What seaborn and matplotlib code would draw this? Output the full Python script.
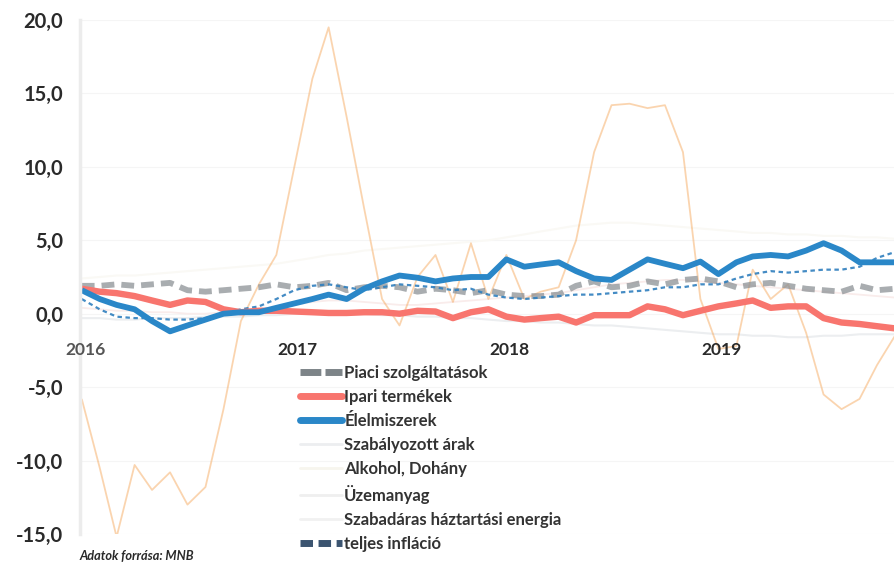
import matplotlib
matplotlib.use("Agg")
import matplotlib.pyplot as plt
import seaborn as sns
import pandas as pd
import numpy as np
from matplotlib.lines import Line2D

# ---------------- data (yoy %, monthly, Jan 2016 - Nov 2019) ----------------
months = pd.date_range("2016-01-01", periods=47, freq="MS")

piaci_szolg = [1.9, 1.9, 2.0, 1.9, 2.0, 2.1, 1.6, 1.5, 1.6, 1.7, 1.8, 2.0,
               1.8, 1.9, 2.1, 1.6, 1.8, 1.9, 1.8, 1.5, 1.7, 1.6, 1.4, 1.6,
               1.3, 1.2, 1.2, 1.3, 1.9, 2.2, 1.8, 1.9, 2.2, 2.0, 2.3, 2.4,
               2.2, 1.8, 2.0, 2.1, 1.9, 1.7, 1.6, 1.5, 1.9, 1.6, 1.7]

ipari = [1.7, 1.5, 1.4, 1.2, 0.9, 0.6, 0.9, 0.8, 0.3, 0.1, 0.2, 0.2,
         0.15, 0.1, 0.05, 0.05, 0.1, 0.1, 0.0, 0.2, 0.15, -0.3, 0.1, 0.3,
         -0.2, -0.4, -0.3, -0.2, -0.6, -0.1, -0.1, -0.1, 0.5, 0.3, -0.1, 0.2,
         0.5, 0.7, 0.9, 0.4, 0.5, 0.5, -0.3, -0.6, -0.7, -0.85, -1.0]

elelmiszer = [1.6, 1.0, 0.6, 0.3, -0.5, -1.2, -0.8, -0.4, 0.0, 0.1, 0.1, 0.4,
              0.7, 1.0, 1.3, 1.0, 1.7, 2.2, 2.6, 2.45, 2.2, 2.4, 2.5, 2.5,
              3.7, 3.2, 3.35, 3.5, 2.9, 2.4, 2.3, 3.0, 3.7, 3.4, 3.1, 3.55,
              2.7, 3.5, 3.9, 4.0, 3.9, 4.3, 4.8, 4.3, 3.5, 3.5, 3.5]

szabalyozott = [-0.3, -0.3, -0.4, -0.4, -0.3, -0.3, -0.3, -0.2, -0.2, -0.2, -0.1, -0.1,
                0.0, 0.0, 0.0, 0.0, 0.0, -0.1, -0.1, -0.2, -0.2, -0.3, -0.3, -0.4,
                -0.5, -0.5, -0.6, -0.6, -0.7, -0.8, -0.8, -0.9, -1.0, -1.1, -1.2, -1.3,
                -1.4, -1.4, -1.5, -1.5, -1.6, -1.6, -1.5, -1.5, -1.4, -1.4, -1.4]

alkohol = [2.4, 2.5, 2.6, 2.6, 2.7, 2.8, 2.9, 3.0, 3.1, 3.2, 3.3, 3.4,
           3.6, 3.8, 4.0, 4.1, 4.3, 4.4, 4.5, 4.6, 4.7, 4.8, 4.9, 5.0,
           5.2, 5.4, 5.6, 5.8, 6.0, 6.1, 6.2, 6.2, 6.1, 6.0, 5.9, 5.8,
           5.7, 5.6, 5.5, 5.5, 5.4, 5.4, 5.3, 5.3, 5.2, 5.2, 5.1]

uzemanyag = [-5.8, -10.5, -15.2, -10.3, -12.0, -10.8, -13.0, -11.8, -6.5, -0.5, 2.0, 4.0,
             10.0, 16.0, 19.5, 13.4, 7.2, 1.0, -0.8, 2.5, 4.0, 0.8, 4.8, 1.0,
             4.0, 1.0, 1.5, 1.8, 5.0, 11.0, 14.2, 14.3, 14.0, 14.2, 11.0, 1.0,
             -2.4, -2.2, 3.0, 1.0, 2.0, -1.3, -5.5, -6.5, -5.8, -3.5, -1.5]

haztartasi_energia = [0.4, 0.3, 0.2, 0.2, 0.1, 0.1, 0.0, 0.0, 0.1, 0.2, 0.3, 0.4,
                      0.6, 0.8, 0.9, 0.9, 0.8, 0.7, 0.6, 0.6, 0.7, 0.8, 0.9, 1.0,
                      1.1, 1.2, 1.3, 1.4, 1.6, 1.8, 2.0, 2.1, 2.2, 2.3, 2.3, 2.2,
                      2.1, 2.0, 1.9, 1.8, 1.7, 1.6, 1.5, 1.4, 1.3, 1.2, 1.1]

teljes_inflacio = [1.0, 0.3, -0.2, -0.3, -0.3, -0.4, -0.4, -0.3, 0.0, 0.3, 0.5, 1.0,
                   1.6, 1.9, 2.0, 1.8, 1.6, 1.8, 2.0, 1.9, 1.8, 1.6, 1.7, 1.3,
                   1.1, 1.0, 1.1, 1.2, 1.3, 1.3, 1.4, 1.5, 1.6, 1.8, 1.8, 2.0,
                   2.0, 2.4, 2.7, 2.9, 2.8, 2.9, 3.0, 3.0, 3.2, 3.8, 4.2]

series_labels = ["Piaci szolgáltatások", "Ipari termékek", "Élelmiszerek",
                 "Szabályozott árak", "Alkohol, Dohány", "Üzemanyag",
                 "Szabadáras háztartási energia", "teljes infláció"]

y_ticks = [20, 15, 10, 5, 0, -5, -10, -15]
y_tick_labels = ["20,0", "15,0", "10,0", "5,0", "0,0", "-5,0", "-10,0", "-15,0"]
year_dates = pd.to_datetime(["2016-01-01", "2017-01-01", "2018-01-01", "2019-01-01"])
year_labels = ["2016", "2017", "2018", "2019"]
source_text = "Adatok forrása: MNB"

# ---------------- figure ----------------
sns.set_theme(style="white")
plt.rcParams["font.family"] = ["Lato", "DejaVu Sans"]

fig = plt.figure(figsize=(8.95, 5.64), dpi=100)
ax = fig.add_axes([80 / 895, 1 - 534 / 564, 1 - 80 / 895, (534 - 20) / 564])

df = pd.DataFrame({
    "date": months,
    "piaci": piaci_szolg, "ipari": ipari, "elel": elelmiszer,
    "szab": szabalyozott, "alk": alkohol, "uzem": uzemanyag,
    "energ": haztartasi_energia, "total": teljes_inflacio,
})

styles = {
    "szab":  dict(color="#eceef0", lw=1.5, alpha=1.0),
    "alk":   dict(color="#faf9f5", lw=1.5, alpha=1.0),
    "energ": dict(color="#f9eceb", lw=1.3, alpha=1.0),
    "uzem":  dict(color="#f5a14f", lw=1.3, alpha=0.45),
    "piaci": dict(color="#8d9296", lw=4.2, alpha=0.75, dashes=(2.2, 1.2)),
    "total": dict(color="#2f7fbe", lw=1.6, alpha=0.9, dashes=(2.0, 1.6)),
    "ipari": dict(color="#f8756e", lw=4.6, alpha=1.0),
    "elel":  dict(color="#2a87c8", lw=4.2, alpha=1.0),
}

for key in ["szab", "alk", "energ", "uzem", "piaci", "total", "ipari", "elel"]:
    st = dict(styles[key])
    dashes = st.pop("dashes", None)
    sns.lineplot(data=df, x="date", y=key, ax=ax, legend=False, **st)
    if dashes is not None:
        ax.lines[-1].set_dashes(dashes)
    ax.lines[-1].set_solid_capstyle("butt")

ax.set_xlim(months[0] - pd.Timedelta(days=3), months[-1])
ax.set_ylim(-15, 20)
ax.set_xlabel("")
ax.set_ylabel("")
ax.set_xticks([])
ax.set_yticks(y_ticks)
ax.set_yticklabels(y_tick_labels, fontsize=14.5, fontweight="bold", color="#2a2a2a")
ax.tick_params(axis="y", length=0, pad=12)
for t in y_ticks:
    ax.axhline(t, color="#f5f5f5", lw=0.8, zorder=0)
for s in ["top", "right", "bottom"]:
    ax.spines[s].set_visible(False)
ax.spines["left"].set_color("#ececec")
ax.spines["left"].set_linewidth(2.5)

for d, lab in zip(year_dates, year_labels):
    ax.text(d + pd.Timedelta(days=6), -2.45, lab, ha="center", va="center",
            fontsize=12.5, fontweight="bold",
            color="#555555" if lab == "2016" else "#2a2a2a", clip_on=False)

# legend
handles = [
    Line2D([], [], color="#7d8488", lw=5, dashes=(3, 0.6)),
    Line2D([], [], color="#f8756e", lw=5),
    Line2D([], [], color="#2a87c8", lw=5),
    Line2D([], [], color="#eceef0", lw=2),
    Line2D([], [], color="#f7f5ee", lw=2),
    Line2D([], [], color="#efefef", lw=2),
    Line2D([], [], color="#f1f1f1", lw=2),
    Line2D([], [], color="#3b5470", lw=5, dashes=(1.8, 0.8)),
]
leg = fig.legend(handles, series_labels, loc="upper left",
                 bbox_to_anchor=(300 / 895, 1 - 365 / 564), frameon=False,
                 prop={"family": ["Lato", "DejaVu Sans"], "size": 12, "weight": "bold"},
                 handlelength=2.5, handletextpad=0.15,
                 labelspacing=0.48, borderpad=0, borderaxespad=0)
for txt in leg.get_texts():
    txt.set_color("#333333")

fig.text(80 / 895, 1 - 556 / 564, source_text, ha="left", va="center",
         fontsize=9.2, fontweight="bold", style="italic", color="#2a2a2a")

fig.savefig("out.png", dpi=100)
